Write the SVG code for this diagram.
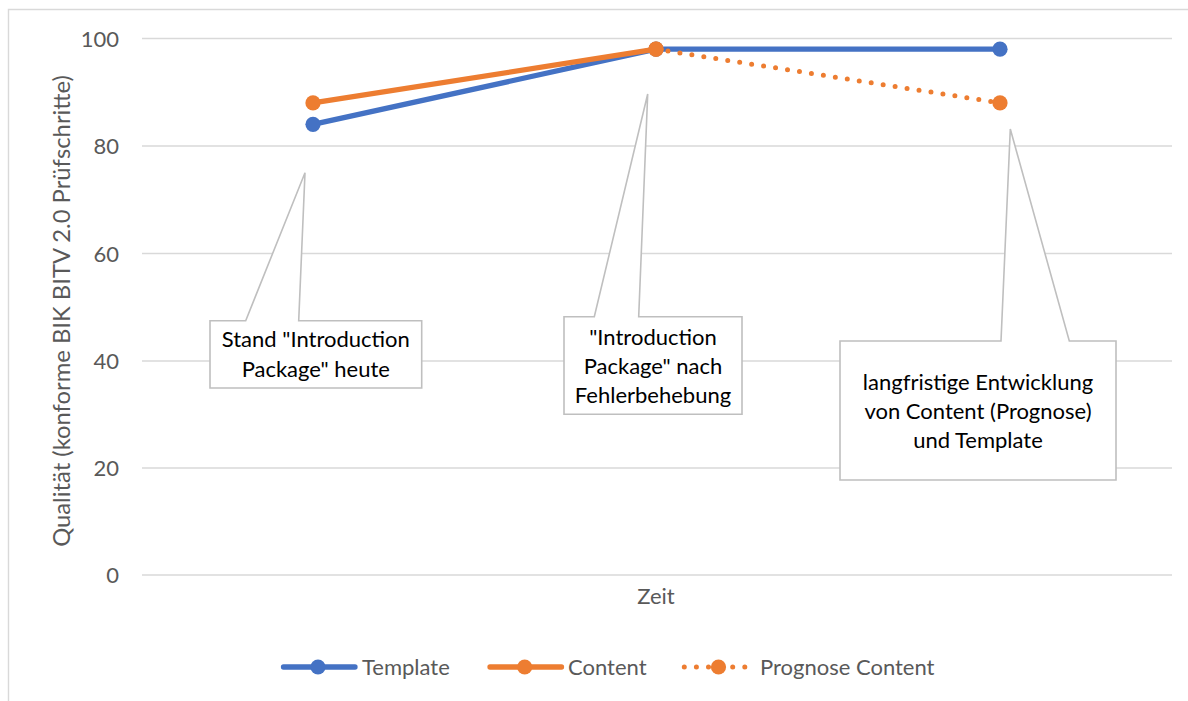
<svg xmlns="http://www.w3.org/2000/svg" width="1188" height="701" viewBox="0 0 1188 701">
<style>
.grid{stroke:#D9D9D9;stroke-width:1.4;fill:none}
.tick{font-family:Lato,"Liberation Sans",sans-serif;font-size:22px;fill:#595959}
.axt{font-family:Lato,"Liberation Sans",sans-serif;font-size:22px;fill:#595959}
.ytitle{font-family:Lato,"Liberation Sans",sans-serif;font-size:23.8px;fill:#595959}
.leg{font-family:Lato,"Liberation Sans",sans-serif;font-size:22px;fill:#595959}
.call{fill:#FFFFFF;stroke:#BFBFBF;stroke-width:1.6;stroke-linejoin:miter}
.ct{font-family:Lato,"Liberation Sans",sans-serif;font-size:22px;fill:#000000;text-anchor:middle}
.tpl{stroke:#4472C4;stroke-width:5.3;fill:none;stroke-linejoin:round;stroke-linecap:round}
.cnt{stroke:#ED7D31;stroke-width:5.3;fill:none;stroke-linejoin:round;stroke-linecap:round}
.prg{stroke:#ED7D31;stroke-width:5;fill:none;stroke-linecap:round;stroke-dasharray:0 12.1}
.mb{fill:#4472C4}
.mo{fill:#ED7D31}
</style>
<rect x="0" y="0" width="1188" height="701" fill="#FFFFFF"/>
<g id="frame">
<path d="M8.5,701 V9.5 H1188" fill="none" stroke="#D9D9D9" stroke-width="1.4"/>
</g>
<g id="gridlines">
<line class="grid" x1="142" y1="38.5" x2="1172" y2="38.5"/>
<line class="grid" x1="142" y1="146" x2="1172" y2="146"/>
<line class="grid" x1="142" y1="253.5" x2="1172" y2="253.5"/>
<line class="grid" x1="142" y1="361" x2="1172" y2="361"/>
<line class="grid" x1="142" y1="468" x2="1172" y2="468"/>
<line class="grid" x1="142" y1="575" x2="1172" y2="575"/>
</g>
<g id="y-axis">
<text class="tick" x="119" y="46.5" text-anchor="end">100</text>
<text class="tick" x="119" y="154" text-anchor="end">80</text>
<text class="tick" x="119" y="261.5" text-anchor="end">60</text>
<text class="tick" x="119" y="369" text-anchor="end">40</text>
<text class="tick" x="119" y="476" text-anchor="end">20</text>
<text class="tick" x="119" y="583" text-anchor="end">0</text>
<text class="ytitle" transform="translate(70,311) rotate(-90)" text-anchor="middle">Qualität (konforme BIK BITV 2.0 Prüfschritte)</text>
</g>
<g id="x-axis">
<text class="axt" x="656" y="604" text-anchor="middle">Zeit</text>
</g>
<g id="series-template">
<polyline class="tpl" points="313,124.3 656,49.2 1000,49.2"/>
<circle class="mb" cx="313" cy="124.3" r="7.6"/>
<circle class="mb" cx="656" cy="49.2" r="7.6"/>
<circle class="mb" cx="1000" cy="49.2" r="7.6"/>
</g>
<g id="series-content">
<polyline class="cnt" points="313,102.9 656,49.2"/>
<circle class="mo" cx="313" cy="102.9" r="7.6"/>
<circle class="mo" cx="656" cy="49.2" r="7.6"/>
</g>
<g id="series-prognose">
<line class="prg" x1="656" y1="49.2" x2="1000" y2="102.9"/>
<circle class="mo" cx="656" cy="49.2" r="7.6"/>
<circle class="mo" cx="1000" cy="102.9" r="7.6"/>
</g>
<g id="callout-heute">
<path class="call" d="M210,320.7 H245.7 L305,172.7 L298.7,320.7 H421.7 V388 H210 Z"/>
<text class="ct" x="315.8" y="347">Stand "Introduction</text>
<text class="ct" x="315.8" y="376.5">Package" heute</text>
</g>
<g id="callout-fehlerbehebung">
<path class="call" d="M564,316.7 H594.3 L647.7,94 L638.7,316.7 H742 V414.3 H564 Z"/>
<text class="ct" x="653" y="345">"Introduction</text>
<text class="ct" x="653" y="374">Package" nach</text>
<text class="ct" x="653" y="403">Fehlerbehebung</text>
</g>
<g id="callout-langfristig">
<path class="call" d="M840,341 H1001 L1010.3,129 L1069.3,341 H1116 V480 H840 Z"/>
<text class="ct" x="978" y="390">langfristige Entwicklung</text>
<text class="ct" x="978" y="419.3">von Content (Prognose)</text>
<text class="ct" x="978" y="447.7">und Template</text>
</g>
<g id="legend">
<line class="tpl" x1="283.5" y1="667" x2="355" y2="667"/>
<circle class="mb" cx="318" cy="667" r="7.6"/>
<text class="leg" x="362" y="675">Template</text>
<line class="cnt" x1="490" y1="667" x2="561.5" y2="667"/>
<circle class="mo" cx="524.7" cy="667" r="7.6"/>
<text class="leg" x="568" y="675">Content</text>
<line class="prg" x1="684.3" y1="667" x2="748" y2="667"/>
<circle class="mo" cx="718.5" cy="667" r="7.6"/>
<text class="leg" x="760" y="675">Prognose Content</text>
</g>
</svg>
